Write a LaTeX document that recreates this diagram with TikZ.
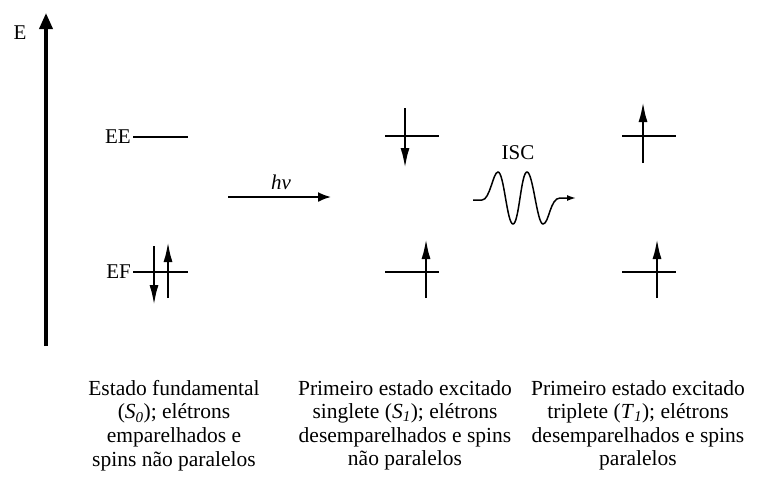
\documentclass[tikz,border=0pt]{standalone}
\usepackage{fontspec}
\setmainfont{Liberation Serif}
\usetikzlibrary{arrows.meta}
\begin{document}
\begin{tikzpicture}[x=1pt,y=-1pt,
  level/.style={line width=2.8pt},
  spin/.style={line width=2.8pt,-{Latex[length=21pt,width=9pt]}},
  axisline/.style={line width=3.6pt,-{Triangle[length=16pt,width=13pt]}},
  lbl/.style={font=\fontsize{21}{24}\selectfont,inner sep=0pt},
  caption/.style={font=\fontsize{21.5}{23.6}\selectfont,align=center,anchor=north,inner sep=0pt}]
\useasboundingbox (0,0) rectangle (763,485);
% energy axis
\coordinate (ab) at (46,346);
\coordinate (at) at (46,13);
\draw[axisline] (ab) -- (at);
\node[lbl] (E) at (20,33) {E};
% ground-state column
\coordinate (ee1) at (133,137); \coordinate (ee2) at (188,137);
\draw[level] (ee1) -- (ee2);
\node[lbl,anchor=east] (EE) at (131,137) {EE};
\coordinate (ef1) at (133,272); \coordinate (ef2) at (188,272);
\draw[level] (ef1) -- (ef2);
\node[lbl,anchor=east] (EF) at (131,272) {EF};
\coordinate (d1a) at (154,246); \coordinate (d1b) at (154,306);
\draw[spin] (d1a) -- (d1b);
\coordinate (u1a) at (168,298); \coordinate (u1b) at (168,241);
\draw[spin] (u1a) -- (u1b);
% S1 column
\coordinate (s1t1) at (385,136); \coordinate (s1t2) at (439,136);
\draw[level] (s1t1) -- (s1t2);
\coordinate (s1da) at (405,108); \coordinate (s1db) at (405,169);
\draw[spin] (s1da) -- (s1db);
\coordinate (s1b1) at (385,272); \coordinate (s1b2) at (439,272);
\draw[level] (s1b1) -- (s1b2);
\coordinate (s1ua) at (426,298); \coordinate (s1ub) at (426,238);
\draw[spin] (s1ua) -- (s1ub);
% T1 column
\coordinate (t1t1) at (622,136); \coordinate (t1t2) at (676,136);
\draw[level] (t1t1) -- (t1t2);
\coordinate (t1ua) at (643,163); \coordinate (t1ub) at (643,101);
\draw[spin] (t1ua) -- (t1ub);
\coordinate (t1b1) at (622,272); \coordinate (t1b2) at (676,272);
\draw[level] (t1b1) -- (t1b2);
\coordinate (t1va) at (657,298); \coordinate (t1vb) at (657,238);
\draw[spin] (t1va) -- (t1vb);
% hv arrow
\coordinate (hva) at (228,197); \coordinate (hvb) at (331,197);
\draw[line width=1.8pt,-{Latex[length=13pt,width=10pt]}] (hva) -- (hvb);
\node[lbl] (hv) at (281,182) {\textit{hv}};
% ISC wave
\node[lbl] (ISC) at (518,153) {ISC};
\coordinate (wa) at (473,200); \coordinate (wb) at (576,198);
\draw[line width=1.5pt,-{Latex[length=9pt,width=6pt]}]
  (wa) -- (482,200)
  .. controls (490,200) and (493,172) .. (498,172)
  .. controls (504,172) and (507,224) .. (513,224)
  .. controls (519,224) and (521,172) .. (527,172)
  .. controls (533,172) and (537,224) .. (543,224)
  .. controls (549,224) and (550,198) .. (560,198)
  -- (wb);
% captions
\node[caption] (c1) at (174,380) {Estado fundamental\\(\textit{S}\textsubscript{\textit{0}}); elétrons\\emparelhados e\\spins não paralelos};
\node[caption] (c2) at (405,380) {Primeiro estado excitado\\singlete (\textit{S}\textsubscript{\textit{1}}); elétrons\\desemparelhados e spins\\não paralelos};
\node[caption] (c3) at (638,380) {Primeiro estado excitado\\triplete (\textit{T}\textsubscript{\textit{1}}); elétrons\\desemparelhados e spins\\paralelos};
\end{tikzpicture}
\end{document}
